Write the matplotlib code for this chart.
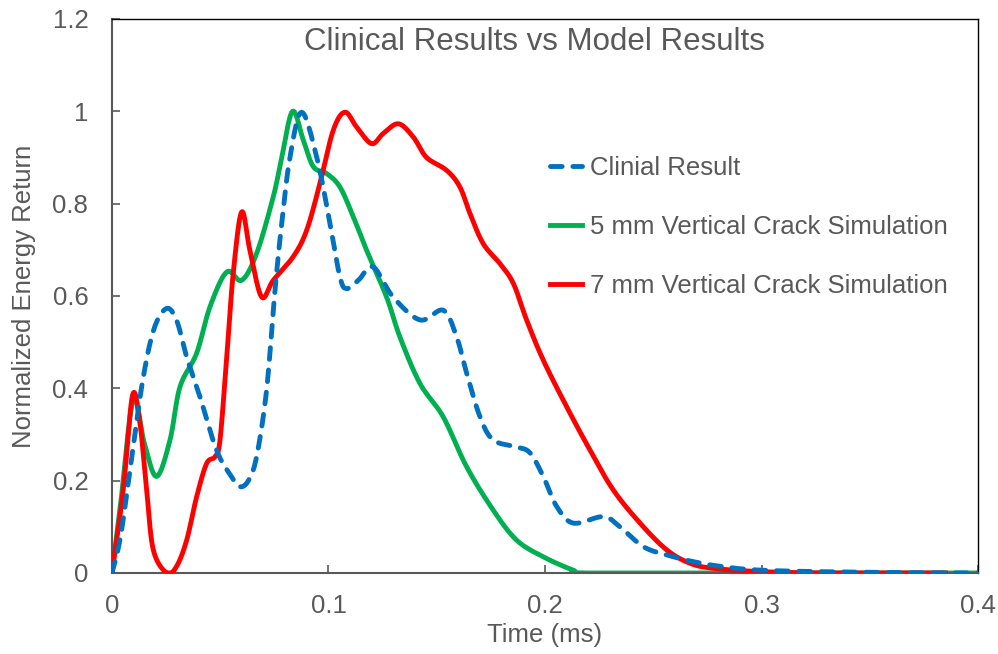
import numpy as np
import matplotlib.pyplot as plt
from matplotlib.ticker import FormatStrFormatter

plt.rcParams['font.family'] = ['Liberation Sans', 'DejaVu Sans']

# values (time in ms, normalized energy)
clin_t = [0.0, 0.004, 0.0091, 0.0143, 0.0195, 0.0253, 0.0300, 0.0345, 0.0406, 0.0483,
          0.0550, 0.0590, 0.0630, 0.0668, 0.0714, 0.0753, 0.0784, 0.0822, 0.0876,
          0.0946, 0.1007, 0.1053, 0.1084, 0.1140, 0.1206, 0.1298, 0.1423, 0.1530,
          0.1592, 0.1638, 0.1700, 0.1761, 0.1869, 0.1931, 0.1992, 0.2054, 0.2131,
          0.2269, 0.2346, 0.2454, 0.2562, 0.2670, 0.2800, 0.3000, 0.3400, 0.3900, 0.4000]
clin_v = [0.0, 0.08, 0.25, 0.42, 0.53, 0.573, 0.545, 0.468, 0.382, 0.266,
          0.21, 0.187, 0.20, 0.252, 0.396, 0.613, 0.757, 0.90, 0.998,
          0.90, 0.757, 0.641, 0.616, 0.635, 0.663, 0.598, 0.548, 0.569,
          0.511, 0.433, 0.338, 0.288, 0.273, 0.26, 0.209, 0.144, 0.108,
          0.122, 0.10, 0.057, 0.039, 0.026, 0.015, 0.006, 0.002, 0.0, 0.0]

crack5_t = [0.0, 0.004, 0.0098, 0.0150, 0.0206, 0.0268, 0.0314, 0.0391, 0.0453, 0.0530,
            0.0599, 0.0668, 0.0745, 0.0784, 0.0834, 0.0884, 0.0930, 0.0992, 0.1053,
            0.1115, 0.1176, 0.1268, 0.1330, 0.1423, 0.1530, 0.1638, 0.1761, 0.1869,
            0.1992, 0.2131, 0.2200, 0.3000, 0.4000]
crack5_v = [0.0, 0.15, 0.375, 0.28, 0.209, 0.288, 0.403, 0.476, 0.577, 0.652,
            0.634, 0.692, 0.815, 0.90, 1.0, 0.937, 0.88, 0.865, 0.836,
            0.771, 0.699, 0.598, 0.511, 0.41, 0.338, 0.23, 0.136, 0.071,
            0.035, 0.006, 0.0, 0.0, 0.0]

crack7_t = [0.0, 0.0052, 0.0095, 0.0129, 0.0160, 0.0191, 0.0253, 0.0298, 0.0345, 0.0391,
            0.0437, 0.0476, 0.0499, 0.0530, 0.0560, 0.0599, 0.0637, 0.0691, 0.0745,
            0.0837, 0.0899, 0.0960, 0.1022, 0.1076, 0.1130, 0.1199, 0.1253, 0.1323,
            0.1392, 0.1453, 0.1546, 0.1607, 0.1654, 0.1715, 0.1792, 0.1854, 0.1915,
            0.1992, 0.2100, 0.2208, 0.2315, 0.2439, 0.2562, 0.2670, 0.2778, 0.2993,
            0.3300, 0.3850]
crack7_v = [0.0, 0.18, 0.385, 0.325, 0.18, 0.05, 0.0, 0.014, 0.071, 0.165,
            0.237, 0.252, 0.288, 0.468, 0.649, 0.782, 0.699, 0.598, 0.634,
            0.685, 0.742, 0.843, 0.959, 0.998, 0.966, 0.93, 0.952, 0.973,
            0.944, 0.90, 0.872, 0.836, 0.778, 0.713, 0.67, 0.627, 0.548,
            0.461, 0.36, 0.266, 0.18, 0.108, 0.05, 0.021, 0.01, 0.003,
            0.0, 0.0]

labels = ['Clinial Result', '5 mm Vertical Crack Simulation', '7 mm Vertical Crack Simulation']


def smooth(t, v, n=12):
    # catmull-rom rendering, like a spreadsheet "smoothed line"
    t = np.asarray(t); v = np.asarray(v)
    pt = np.concatenate([[t[0]], t, [t[-1]]])
    pv = np.concatenate([[v[0]], v, [v[-1]]])
    xs, ys = [], []
    s = np.linspace(0, 1, n, endpoint=False)
    for i in range(1, len(pt) - 2):
        for p, out in ((pt, xs), (pv, ys)):
            p0, p1, p2, p3 = p[i - 1], p[i], p[i + 1], p[i + 2]
            out.extend(0.5 * (2 * p1 + (-p0 + p2) * s + (2 * p0 - 5 * p1 + 4 * p2 - p3) * s ** 2
                              + (-p0 + 3 * p1 - 3 * p2 + p3) * s ** 3))
    xs.append(t[-1]); ys.append(v[-1])
    return np.array(xs), np.maximum(np.array(ys), 0)


fig = plt.figure(figsize=(9.98, 6.54), dpi=100)
ax = fig.add_axes([0.1122, 0.1239, 0.8678, 0.8471])

gray = '#595959'
fs = 18.5
x, y = smooth(crack5_t, crack5_v)
ax.plot(x, y, color='#00B050', lw=3.5, label=labels[1], zorder=2)
x, y = smooth(crack7_t, crack7_v)
ax.plot(x, y, color='#FF0000', lw=3.5, label=labels[2], zorder=3)
x, y = smooth(clin_t, clin_v)
ax.plot(x, y, color='#0070C0', lw=3.5, ls=(0, (2.4, 2.2)), dash_capstyle='round',
        label=labels[0], zorder=4)

ax.set_xlim(0, 0.4)
ax.set_ylim(0, 1.2)
ax.set_xticks([0, 0.1, 0.2, 0.3, 0.4])
ax.set_yticks([0, 0.2, 0.4, 0.6, 0.8, 1.0, 1.2])
ax.xaxis.set_major_formatter(FormatStrFormatter('%g'))
ax.yaxis.set_major_formatter(FormatStrFormatter('%g'))
ax.tick_params(direction='in', length=6, width=1.2, color=gray, labelcolor=gray,
               labelsize=fs)
ax.tick_params(axis='x', pad=15)
ax.tick_params(axis='y', pad=17)
for side in ('left', 'bottom'):
    ax.spines[side].set_color(gray)
    ax.spines[side].set_linewidth(1.5)
for side in ('top', 'right'):
    ax.spines[side].set_color('black')
    ax.spines[side].set_linewidth(1.0)

ax.set_xlabel('Time (ms)', fontsize=fs, color=gray, labelpad=4)
ax.set_ylabel('Normalized Energy Return', fontsize=fs, color=gray, labelpad=12)
ax.text(0.488, 0.958, 'Clinical Results vs Model Results', transform=ax.transAxes,
        ha='center', va='center', fontsize=22.5, color=gray)

h, l = ax.get_legend_handles_labels()
order = [2, 0, 1]
ax.legend([h[i] for i in order], [l[i] for i in order], loc='center left',
          bbox_to_anchor=(0.5058, 0.6245), frameon=False, fontsize=fs, labelcolor=gray,
          borderpad=0, borderaxespad=0, handlelength=1.25, handletextpad=0.3,
          labelspacing=1.36)

fig.savefig('out.png', dpi=100)
